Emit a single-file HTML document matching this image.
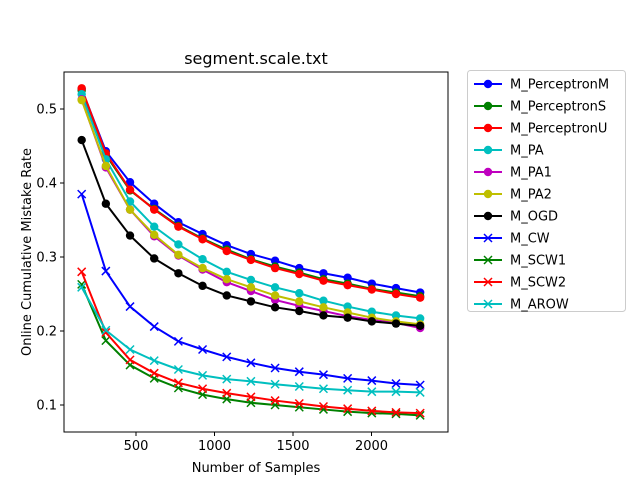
<!DOCTYPE html>
<html><head><meta charset="utf-8"><style>
body{margin:0;background:#fff;font-family:"Liberation Sans","DejaVu Sans",sans-serif;}
svg text{font-family:"DejaVu Sans","Liberation Sans",sans-serif;}
</style></head><body>
<svg id="chart" width="640" height="480" viewBox="0 0 640 480">
<rect width="640" height="480" fill="#fff"/>
<g id="plot"></g>
<rect x="64" y="72" width="384" height="360" fill="none" stroke="#000" stroke-width="1"/>
<text x="256" y="64" text-anchor="middle" font-size="16">segment.scale.txt</text>
<text x="256" y="472" text-anchor="middle" font-size="13">Number of Samples</text>
<text x="0" y="0" transform="translate(31,252) rotate(-90)" text-anchor="middle" font-size="13">Online Cumulative Mistake Rate</text>
<g id="legend"></g>
</svg>
<script>
const xs=[154,308,462,616,770,924,1078,1232,1386,1540,1694,1848,2002,2156,2310];
const xTicks=[500,1000,1500,2000];
const yTicks=[0.1,0.2,0.3,0.4,0.5];
const names=["M_PerceptronM","M_PerceptronS","M_PerceptronU","M_PA","M_PA1","M_PA2","M_OGD","M_CW","M_SCW1","M_SCW2","M_AROW"];
const colors=["#0000ff","#008000","#ff0000","#00bfbf","#bf00bf","#bfbf00","#000000","#0000ff","#008000","#ff0000","#00bfbf"];
const markers=["o","o","o","o","o","o","o","x","x","x","x"];
const sPercM=[0.527,0.443,0.401,0.372,0.347,0.331,0.316,0.304,0.295,0.285,0.278,0.272,0.264,0.258,0.252];
const sPercS=[0.525,0.438,0.390,0.365,0.342,0.325,0.310,0.297,0.287,0.279,0.270,0.264,0.257,0.252,0.247];
const sPercU=[0.528,0.440,0.391,0.364,0.341,0.324,0.308,0.296,0.285,0.277,0.268,0.262,0.256,0.250,0.245];
const sPA=[0.520,0.432,0.375,0.341,0.317,0.297,0.280,0.269,0.259,0.251,0.241,0.233,0.226,0.221,0.217];
const sPA1=[0.513,0.421,0.364,0.328,0.302,0.283,0.266,0.254,0.242,0.234,0.227,0.220,0.215,0.211,0.204];
const sPA2=[0.512,0.423,0.364,0.330,0.303,0.285,0.270,0.259,0.248,0.240,0.232,0.225,0.218,0.213,0.209];
const sOGD=[0.458,0.372,0.329,0.298,0.278,0.261,0.248,0.240,0.232,0.227,0.221,0.218,0.213,0.210,0.207];
const sCW=[0.385,0.281,0.233,0.206,0.186,0.175,0.165,0.157,0.150,0.145,0.141,0.136,0.133,0.129,0.127];
const sSCW1=[0.263,0.187,0.154,0.136,0.123,0.114,0.108,0.103,0.100,0.097,0.094,0.091,0.089,0.088,0.086];
const sSCW2=[0.280,0.198,0.161,0.143,0.130,0.122,0.116,0.111,0.106,0.102,0.098,0.095,0.092,0.090,0.089];
const sAROW=[0.259,0.201,0.175,0.160,0.148,0.140,0.135,0.132,0.128,0.125,0.122,0.120,0.118,0.118,0.117];
const series=[sPercM,sPercS,sPercU,sPA,sPA1,sPA2,sOGD,sCW,sSCW1,sSCW2,sAROW];
const NS="http://www.w3.org/2000/svg";
function X(v){return 136+(v-500)*78.5/500;}
function Y(v){return 109+(0.5-v)*740;}
function mk(tag,attrs,parent){const e=document.createElementNS(NS,tag);for(const k in attrs)e.setAttribute(k,attrs[k]);parent.appendChild(e);return e;}
const plot=document.getElementById('plot');
xTicks.forEach(t=>{
 const l=mk('line',{x1:X(t),x2:X(t),y1:432,y2:436,stroke:'#000'},plot);
 
 
 const tx=mk('text',{x:X(t),y:450,'text-anchor':'middle','font-size':13},plot);tx.textContent=t;
 
 
});
yTicks.forEach(t=>{
 const l=mk('line',{x1:60,x2:64,y1:Y(t),y2:Y(t),stroke:'#000'},plot);
 
 
 const tx=mk('text',{x:57,y:Y(t)+4.5,'text-anchor':'end','font-size':13},plot);tx.textContent=t.toFixed(1);
 
 
});
function marker(type,x,y,c,parent){
 if(type==='o'){const m=mk('circle',{cx:x,cy:y,r:4.2,fill:c},parent);return m;}
 const g=mk('g',{},parent);
 mk('line',{x1:x-4,y1:y-4,x2:x+4,y2:y+4,stroke:c,'stroke-width':1.5},g);
 mk('line',{x1:x-4,y1:y+4,x2:x+4,y2:y-4,stroke:c,'stroke-width':1.5},g);
 return g;
}
series.forEach((s,i)=>{
 const g=mk('g',{},plot);
 
 
 const pts=s.map((v,j)=>X(xs[j])+','+Y(v)).join(' ');
 mk('polyline',{points:pts,fill:'none',stroke:colors[i],'stroke-width':2},g);
 s.forEach((v,j)=>{const m=marker(markers[i],X(xs[j]),Y(v),colors[i],g);
  
  });
});
const lg=document.getElementById('legend');


mk('rect',{x:467.5,y:70.5,width:158,height:241,rx:3,fill:'#fff',stroke:'#ccc'},lg);
names.forEach((n,i)=>{
 const y=84+i*22;
 const g=mk('g',{},lg);
 
 
 mk('line',{x1:474,x2:502,y1:y,y2:y,stroke:colors[i],'stroke-width':2},g);
 marker(markers[i],488,y,colors[i],g);
 const t=mk('text',{x:510,y:y+4.5,'font-size':13},g);t.textContent=n;
});
</script>
</body></html>
